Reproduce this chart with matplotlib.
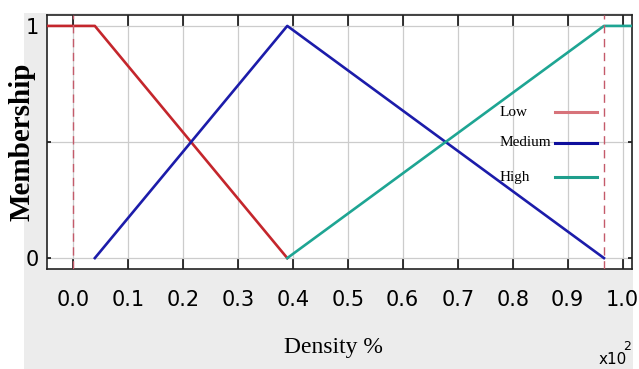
import matplotlib
matplotlib.use("Agg")
import matplotlib.pyplot as plt
from matplotlib.lines import Line2D
from matplotlib.patches import Rectangle

# membership functions (density in units of 10^2 %)
low_x = [-0.05, 0.04, 0.39]
low_y = [1, 1, 0]
medium_x = [0.04, 0.39, 0.966]
medium_y = [0, 1, 0]
high_x = [0.39, 0.966, 1.02]
high_y = [0, 1, 1]
range_marks = [0.0, 0.966]

x_ticks = [0.0, 0.1, 0.2, 0.3, 0.4, 0.5, 0.6, 0.7, 0.8, 0.9, 1.0]
x_tick_labels = ["0.0", "0.1", "0.2", "0.3", "0.4", "0.5", "0.6", "0.7", "0.8", "0.9", "1.0"]
y_ticks = [0, 0.5, 1]
y_tick_labels = ["0", "", "1"]
names = ["Low", "Medium", "High"]

SANS = dict(family="DejaVu Sans")
SERIF = ["Liberation Serif", "DejaVu Serif"]

C_LOW = "#c4262c"
C_MED = "#1c1caa"
C_HIGH = "#1ea593"
KEY_COLORS = ["#d7737a", "#0e0e9c", "#1f9e8c"]

fig = plt.figure(figsize=(6.39, 3.69), dpi=100, facecolor="white")
fig.patches.append(Rectangle((24 / 639, 0), 1 - 30 / 639, 1 - 13 / 369,
                             transform=fig.transFigure, facecolor="#ececec",
                             edgecolor="none", zorder=-10))

ax = fig.add_axes([47 / 639, 1 - 269 / 369, 585 / 639, 254 / 369])
ax.set_facecolor("white")
ax.set_xlim(-0.047, 1.017)
ax.set_ylim(-0.047, 1.047)

ax.grid(True, color="#cccccc", lw=0.9)
ax.set_axisbelow(True)

ax.plot(low_x, low_y, color=C_LOW, lw=1.9, zorder=3)
ax.plot(medium_x, medium_y, color=C_MED, lw=1.9, zorder=3)
ax.plot(high_x, high_y, color=C_HIGH, lw=1.9, zorder=3)
for xv in range_marks:
    ax.axvline(xv, color="#c45a6a", lw=1.0, ls=(0, (6, 4)), zorder=4)

ax.set_xticks(x_ticks)
ax.set_xticklabels(x_tick_labels, fontsize=15, **SANS)
ax.set_yticks(y_ticks)
ax.set_yticklabels(y_tick_labels, fontsize=15, **SANS)
ax.tick_params(axis="x", direction="in", length=8, width=1.1, top=True,
               pad=15, colors="black")
ax.tick_params(axis="y", direction="in", length=3, width=1.1, right=True,
               pad=6, colors="black")
for s in ax.spines.values():
    s.set_linewidth(1.2)
    s.set_color("#222222")

ax.set_xlabel("Density %", family=SERIF, fontsize=17)
ax.xaxis.set_label_coords((333 - 47) / 585, -(347 - 269) / 254)
ax.xaxis.label.set_va("center")
ax.set_ylabel("Membership", family=SERIF, fontsize=21, fontweight="bold")
ax.yaxis.set_label_coords(-(47 - 22) / 585, 0.5)
ax.yaxis.label.set_va("center")

# axis multiplier
fig.text(599 / 639, 1 - 359 / 369, "x10", fontsize=11, ha="left",
         va="center", **SANS)
fig.text(623 / 639, 1 - 347 / 369, "2", fontsize=9, ha="left",
         va="center", **SANS)

# key: label on the left, sample line on the right
key_y = [(269 - 112) / 254, (269 - 143) / 254, (269 - 177) / 254]
for name, col, ky in zip(names, KEY_COLORS, key_y):
    ax.text((500 - 47) / 585, ky, name, transform=ax.transAxes,
            family=SERIF, fontsize=11, ha="left", va="center", zorder=5)
    ax.add_line(Line2D([(555 - 47) / 585, (597 - 47) / 585], [ky, ky],
                       transform=ax.transAxes, color=col, lw=2.2, zorder=5))

fig.savefig("out.png", dpi=100, facecolor=fig.get_facecolor())
